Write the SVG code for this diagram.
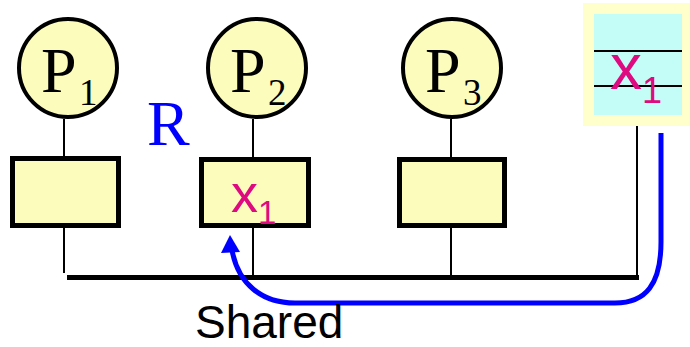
<svg xmlns="http://www.w3.org/2000/svg" width="690" height="347" viewBox="0 0 690 347">
  <style>
    .proc { fill: #fcfcbc; stroke: #000; stroke-width: 4; }
    .cache { fill: #fcfcbc; stroke: #000; stroke-width: 5; }
    .wire { stroke: #000; stroke-width: 2; fill: none; }
    .bus { stroke: #000; stroke-width: 5; fill: none; }
    .pname { font-family: "Liberation Serif", "Times New Roman", serif; font-size: 64px; fill: #000; }
    .psub { font-family: "Liberation Serif", "Times New Roman", serif; font-size: 37px; fill: #000; }
    .var { font-family: "Liberation Sans", Arial, sans-serif; fill: #dd0a80; }
    .move { stroke: #0000ff; stroke-width: 5; fill: none; }
  </style>

  <!-- interconnect: processor-to-cache wires and the shared bus -->
  <g id="connectors">
    <line class="wire" x1="64" y1="119" x2="64" y2="158"/>
    <line class="wire" x1="253" y1="119" x2="253" y2="158"/>
    <line class="wire" x1="451" y1="119" x2="451" y2="158"/>
    <line class="wire" x1="64" y1="228" x2="64" y2="273"/>
    <line class="wire" x1="253" y1="228" x2="253" y2="277"/>
    <line class="wire" x1="451" y1="228" x2="451" y2="277"/>
    <line class="wire" x1="637" y1="120" x2="637" y2="277"/>
    <line class="bus" x1="67" y1="277.5" x2="639" y2="277.5"/>
    <!-- transfer of x1 from memory into P2's cache -->
    <path class="move" d="M661 133 V242 C661 284 646 303 615 303 H295 C262 303 238 284 232 250"/>
    <polygon points="230,235 221,253 240,252" fill="#0000ff"/>
  </g>

  <g id="p1">
    <circle class="proc" cx="68" cy="68" r="49"/>
    <text class="pname" x="41" y="92">P</text>
    <text class="psub" x="79" y="105">1</text>
  </g>
  <g id="p2">
    <circle class="proc" cx="257" cy="68" r="49"/>
    <text class="pname" x="230" y="92">P</text>
    <text class="psub" x="268" y="105">2</text>
  </g>
  <g id="p3">
    <circle class="proc" cx="452" cy="68" r="49"/>
    <text class="pname" x="425" y="92">P</text>
    <text class="psub" x="463" y="105">3</text>
  </g>

  <text x="147" y="145" font-family="'Liberation Serif', 'Times New Roman', serif" font-size="64" fill="#0000ff">R</text>

  <g id="cache1">
    <rect class="cache" x="12.5" y="158.5" width="106" height="67"/>
  </g>
  <g id="cache2">
    <rect class="cache" x="201.5" y="159.5" width="107" height="66"/>
    <text class="var" x="231" y="212" font-size="54">x</text>
    <text class="var" x="258" y="224" font-size="33">1</text>
  </g>
  <g id="cache3">
    <rect class="cache" x="399.5" y="159.5" width="105" height="66"/>
  </g>

  <g id="memory">
    <rect x="583" y="3" width="107" height="123" fill="#ffffcc"/>
    <rect x="594" y="14" width="88" height="101" fill="#c4fcf8"/>
    <line x1="594" y1="51" x2="682" y2="51" stroke="#000" stroke-width="2"/>
    <line x1="594" y1="86" x2="682" y2="86" stroke="#000" stroke-width="2"/>
    <text class="var" x="610" y="89" font-size="64">x</text>
    <text class="var" x="642" y="103" font-size="36">1</text>
  </g>

  <text x="195" y="338" font-family="'Liberation Sans', Arial, sans-serif" font-size="46" fill="#000">Shared</text>
</svg>
